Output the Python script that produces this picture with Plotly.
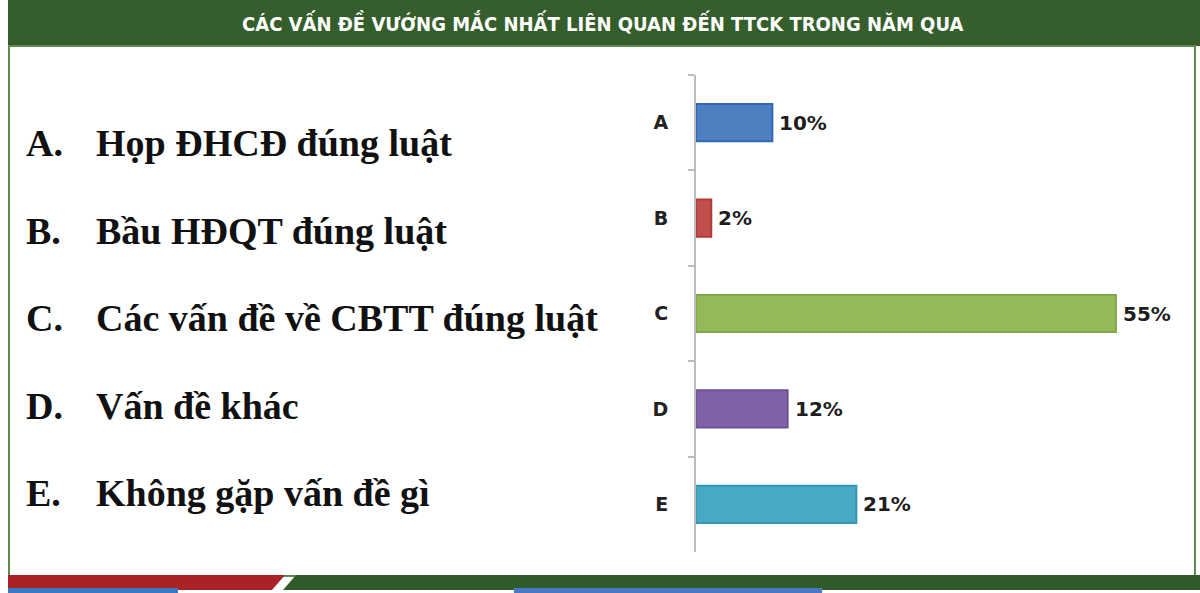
import plotly.graph_objects as go

categories = ["A", "B", "C", "D", "E"]
values = [10, 2, 55, 12, 21]
value_labels = ["10%", "2%", "55%", "12%", "21%"]
descriptions = ["Họp ĐHCĐ đúng luật", "Bầu HĐQT đúng luật", "Các vấn đề về CBTT đúng luật",
                "Vấn đề khác", "Không gặp vấn đề gì"]
title = "CÁC VẤN ĐỀ VƯỚNG MẮC NHẤT LIÊN QUAN ĐẾN TTCK TRONG NĂM QUA"

fill_colors = ["#4F7FC0", "#C0504D", "#93B958", "#8063A6", "#47A9C3"]
line_colors = ["#2F68B8", "#B03A37", "#7FA847", "#6D5193", "#3596B0"]

W, H = 1200, 593
fig = go.Figure()
fig.add_trace(go.Bar(
    y=categories, x=values, orientation="h",
    marker=dict(color=fill_colors, line=dict(color=line_colors, width=2)),
    width=0.39, hoverinfo="skip",
))

shapes = [
    dict(type="rect", xref="paper", yref="paper", x0=8/W, x1=1.0, y0=1-46/H, y1=1.0,
         fillcolor="#365E2D", line=dict(width=0), layer="below"),
    dict(type="rect", xref="paper", yref="paper", x0=9/W, x1=1195/W, y0=1-576/H, y1=1-46/H,
         fillcolor="rgba(0,0,0,0)", line=dict(color="#5E8A4E", width=2), layer="below"),
    dict(type="path", xref="paper", yref="paper",
         path=f"M {8/W},{1-575/H} L {285/W},{1-575/H} L {272/W},{1-590/H} L {8/W},{1-590/H} Z",
         fillcolor="#A82226", line=dict(width=0)),
    dict(type="path", xref="paper", yref="paper",
         path=f"M {296/W},{1-575/H} L {1.0},{1-575/H} L {1.0},{1-590/H} L {283/W},{1-590/H} Z",
         fillcolor="#2F5C2A", line=dict(width=0)),
    dict(type="rect", xref="paper", yref="paper", x0=8/W, x1=178/W, y0=0, y1=1-588/H,
         fillcolor="#3B78C4", line=dict(width=0)),
    dict(type="rect", xref="paper", yref="paper", x0=514/W, x1=822/W, y0=0, y1=1-588/H,
         fillcolor="#4A78C2", line=dict(width=0)),
]

annotations = [dict(text=f"<b>{title}</b>", xref="paper", yref="paper", x=603/W, y=1-23/H,
                    showarrow=False, xanchor="center", yanchor="middle",
                    font=dict(family="DejaVu Sans Condensed", size=20, color="white"))]
for cat, val, lab in zip(categories, values, value_labels):
    annotations.append(dict(text=f"<b>{lab}</b>", xref="x", yref="y", x=val, y=cat,
                            showarrow=False, xanchor="left", yanchor="middle", xshift=5,
                            font=dict(family="DejaVu Sans", size=20, color="#1E1E1E")))
row_y = [143, 231, 318, 406, 493]
for cat, desc, ry in zip(categories, descriptions, row_y):
    annotations.append(dict(text=f"<b>{cat}.</b>", xref="paper", yref="paper", x=24/W, y=1-ry/H,
                            showarrow=False, xanchor="left", yanchor="middle",
                            font=dict(family="Liberation Serif", size=38, color="#111111")))
    annotations.append(dict(text=f"<b>{desc}</b>", xref="paper", yref="paper", x=94/W, y=1-ry/H,
                            showarrow=False, xanchor="left", yanchor="middle",
                            font=dict(family="Liberation Serif", size=38, color="#111111")))

fig.update_layout(
    width=W, height=H, margin=dict(l=0, r=0, t=0, b=0),
    paper_bgcolor="white", plot_bgcolor="white", showlegend=False,
    shapes=shapes, annotations=annotations,
    xaxis=dict(domain=[696/W, 1190/W], range=[0, 64.7], visible=False, fixedrange=True),
    yaxis=dict(domain=[1-552/H, 1-75/H], autorange="reversed", type="category",
               showline=True, linecolor="#BDBDBD", linewidth=2,
               ticks="outside", tickson="boundaries", ticklen=6, tickcolor="#BDBDBD", tickwidth=2,
               ticklabelstandoff=22, showgrid=False, zeroline=False, fixedrange=True,
               tickfont=dict(family="DejaVu Sans", size=19, color="#222222", weight="bold")),
)
fig.write_html("out.html", config={"displayModeBar": False},
               post_script="document.body.style.margin='0';")
